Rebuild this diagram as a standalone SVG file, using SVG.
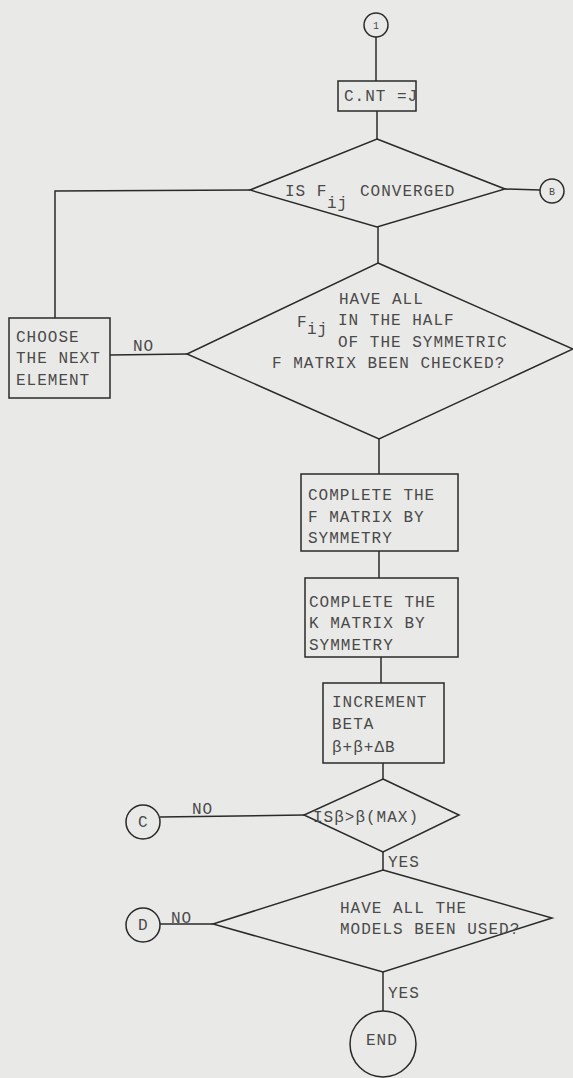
<svg xmlns="http://www.w3.org/2000/svg" width="573" height="1078" viewBox="0 0 573 1078">
<style>
.s{fill:none;stroke:#2a2a2a;stroke-width:1.5}
.t{font-family:"Liberation Mono",monospace;font-size:16px;fill:#4a4a4a;letter-spacing:1px}
.sm{font-family:"Liberation Mono",monospace;font-size:10px;fill:#4a4a4a}
</style>
<rect x="0" y="0" width="573" height="1078" fill="#e9e9e7"/>
<g id="connectors" class="s">
<line x1="376" y1="37" x2="376" y2="81"/>
<line x1="377" y1="111" x2="377" y2="139"/>
<line x1="505" y1="189" x2="540" y2="190"/>
<polyline points="250,190 55,191 55,318"/>
<line x1="378" y1="227" x2="378" y2="263"/>
<line x1="110" y1="355" x2="187" y2="354"/>
<line x1="379" y1="439" x2="379" y2="474"/>
<line x1="379" y1="551" x2="379" y2="578"/>
<line x1="381" y1="657" x2="381" y2="683"/>
<line x1="383" y1="763" x2="383" y2="779"/>
<line x1="160" y1="817" x2="304" y2="815"/>
<line x1="383" y1="852" x2="383" y2="870"/>
<line x1="160" y1="924" x2="213" y2="924"/>
<line x1="383" y1="972" x2="383" y2="1011"/>
</g>
<g id="n_start"><circle class="s" cx="376" cy="25" r="12"/><text class="sm" x="373" y="29">1</text></g>
<g id="n_cnt"><rect class="s" x="338" y="81" width="78" height="30"/><text class="t" x="344" y="101">C.NT =J</text></g>
<g id="n_conv"><polygon class="s" points="377,139 505,189 377,227 250,190"/>
<text class="t" x="285" y="196">IS F</text><text class="t" x="327" y="208">ij</text><text class="t" x="360" y="196">CONVERGED</text></g>
<g id="n_B"><circle class="s" cx="552" cy="191" r="12"/><text class="sm" x="549" y="195">B</text></g>
<g id="n_choose"><rect class="s" x="9" y="318" width="101" height="80"/>
<text class="t" x="16" y="342">CHOOSE</text><text class="t" x="16" y="363">THE NEXT</text><text class="t" x="16" y="385">ELEMENT</text></g>
<text class="t" x="133" y="351">NO</text>
<g id="n_checked"><polygon class="s" points="378,263 573,349 379,439 187,354"/>
<text class="t" x="339" y="304">HAVE ALL</text>
<text class="t" x="297" y="327">F</text><text class="t" x="307" y="334">ij</text>
<text class="t" x="338" y="325">IN THE HALF</text>
<text class="t" x="338" y="347">OF THE SYMMETRIC</text>
<text class="t" x="272" y="368">F MATRIX BEEN CHECKED?</text></g>
<g id="n_fsym"><rect class="s" x="301" y="474" width="157" height="77"/>
<text class="t" x="308" y="500">COMPLETE THE</text><text class="t" x="308" y="522">F MATRIX BY</text><text class="t" x="308" y="543">SYMMETRY</text></g>
<g id="n_ksym"><rect class="s" x="305" y="578" width="153" height="79"/>
<text class="t" x="309" y="607">COMPLETE THE</text><text class="t" x="309" y="628">K MATRIX BY</text><text class="t" x="309" y="650">SYMMETRY</text></g>
<g id="n_inc"><rect class="s" x="323" y="683" width="121" height="80"/>
<text class="t" x="332" y="707">INCREMENT</text><text class="t" x="332" y="729">BETA</text><text class="t" x="332" y="752">β+β+ΔB</text></g>
<g id="n_max"><polygon class="s" points="383,779 459,815 383,852 304,815"/>
<text class="t" x="313" y="822">ISβ&gt;β(MAX)</text></g>
<g id="n_C"><circle class="s" cx="143" cy="822" r="17"/><text class="t" x="138" y="827">C</text></g>
<text class="t" x="192" y="814">NO</text>
<text class="t" x="388" y="867">YES</text>
<g id="n_models"><polygon class="s" points="383,870 552,918 383,972 213,924"/>
<text class="t" x="340" y="913">HAVE ALL THE</text><text class="t" x="340" y="934">MODELS BEEN USED?</text></g>
<g id="n_D"><circle class="s" cx="143" cy="925" r="17"/><text class="t" x="138" y="930">D</text></g>
<text class="t" x="171" y="923">NO</text>
<text class="t" x="388" y="998">YES</text>
<g id="n_end"><circle class="s" cx="383" cy="1044" r="33"/><text class="t" x="366" y="1045">END</text></g>
</svg>
